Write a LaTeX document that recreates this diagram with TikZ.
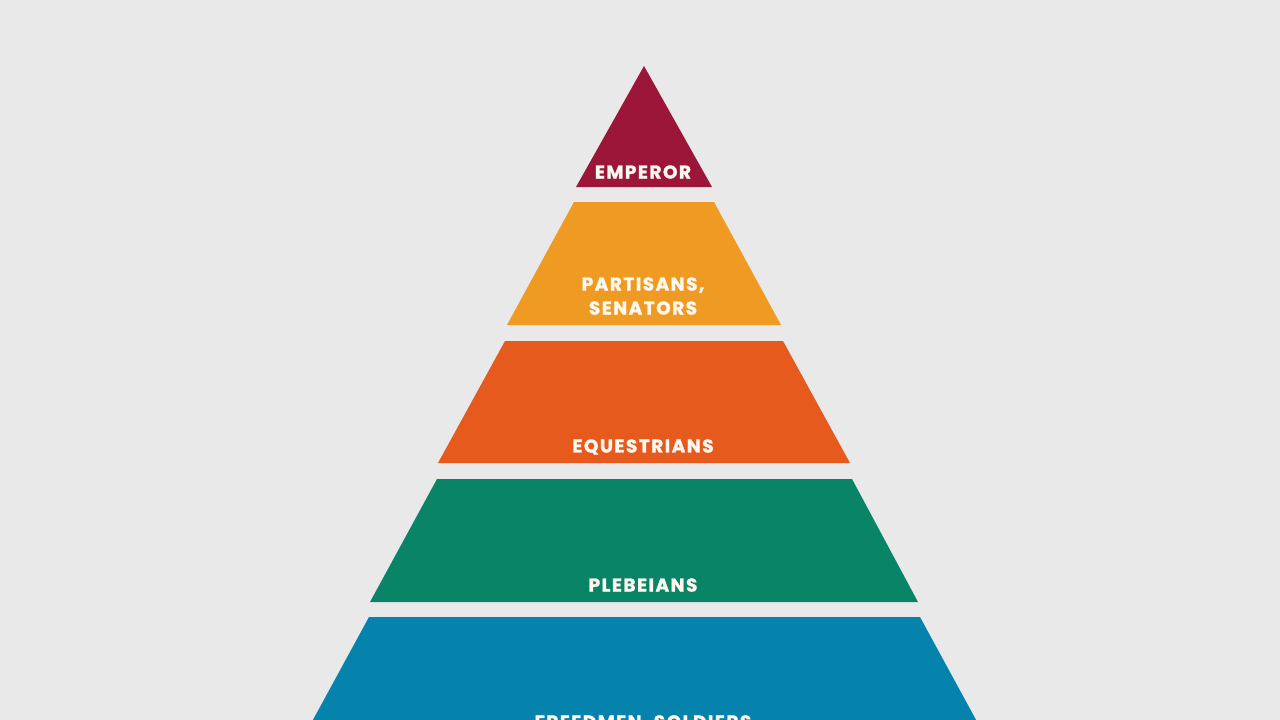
\documentclass[tikz,border=0pt]{standalone}
\usepackage{fontspec}
\setmainfont{Poppins}[LetterSpace=8, BoldFeatures={FakeBold=1.5}]
\definecolor{bg}{HTML}{E9E9E9}
\definecolor{cEmp}{HTML}{9C1639}
\definecolor{cPar}{HTML}{EF9A22}
\definecolor{cEqu}{HTML}{E65A1E}
\definecolor{cPle}{HTML}{0A8466}
\definecolor{cFre}{HTML}{0683AD}
\definecolor{txt}{HTML}{FFF8F0}
\tikzset{
  layer/.style={draw=none},
  lbl/.style={text=txt, font=\fontsize{18.5}{24}\selectfont\bfseries, align=center, inner sep=0pt}
}
\begin{document}
\begin{tikzpicture}[x=1pt,y=-1pt]
\useasboundingbox (0,0) rectangle (1280,720);
\clip (0,0) rectangle (1280,720);
\fill[bg] (0,0) rectangle (1280,720);
\fill[cEmp,layer] (644,66) -- (712,187) -- (576,187) -- cycle;
\fill[cPar,layer] (574,202) -- (714,202) -- (781,325) -- (507,325) -- cycle;
\fill[cEqu,layer] (505,341) -- (783,341) -- (850,463) -- (438,463) -- cycle;
\fill[cPle,layer] (437,479) -- (852,479) -- (918,602) -- (370,602) -- cycle;
\fill[cFre,layer] (369,617) -- (920,617) -- (987,740) -- (302,740) -- cycle;
\node[lbl] (emp) at (643,172) {EMPEROR};
\node[lbl] (par) at (643,296) {PARTISANS,\\SENATORS};
\node[lbl] (equ) at (643,447) {EQUESTRIANS};
\node[lbl] (ple) at (643,585) {PLEBEIANS};
\node[lbl] (fre) at (643,723) {FREEDMEN, SOLDIERS};
\end{tikzpicture}
\end{document}
